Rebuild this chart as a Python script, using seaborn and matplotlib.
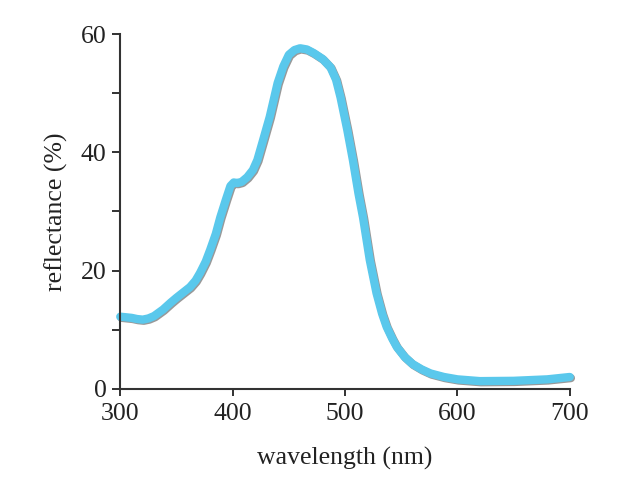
import matplotlib
matplotlib.use("Agg")
import matplotlib.pyplot as plt
import matplotlib.patheffects as pe
import seaborn as sns
import pandas as pd
from matplotlib.ticker import MultipleLocator

wavelength = [300, 305, 310, 315, 320, 325, 330, 338, 345, 350, 356, 362, 367, 371,
              376, 380, 385, 389, 394, 398, 401, 404, 408, 413, 418, 422, 427, 433,
              440, 445, 450, 455, 460, 466, 472, 480, 487, 492, 496, 502, 507, 512,
              516, 522, 528, 533, 537, 542, 546, 553, 560, 568, 576, 588, 600, 620,
              650, 680, 700]
reflectance = [12.2, 12.1, 12.0, 11.8, 11.7, 11.9, 12.3, 13.4, 14.6, 15.4, 16.3, 17.2,
               18.3, 19.6, 21.5, 23.5, 26.2, 29.0, 32.0, 34.3, 34.9, 34.8, 35.0, 35.8,
               37.0, 38.7, 42.0, 46.0, 51.7, 54.5, 56.5, 57.3, 57.6, 57.4, 56.8, 55.8,
               54.4, 52.3, 49.3, 43.8, 38.7, 33.0, 29.0, 21.8, 16.2, 12.7, 10.5, 8.5,
               7.1, 5.4, 4.2, 3.3, 2.6, 2.0, 1.6, 1.3, 1.35, 1.6, 2.0]

df = pd.DataFrame({"wavelength": wavelength, "reflectance": reflectance})

sns.set_theme(style="ticks")
plt.rcParams["font.family"] = ["Liberation Serif", "DejaVu Serif"]

fig = plt.figure(figsize=(6.2, 4.8), dpi=100)
ax = fig.add_axes([0.194, 0.19, 0.725, 0.739])

sns.lineplot(data=df, x="wavelength", y="reflectance", ax=ax, color="#5AC8EC",
             linewidth=6, clip_on=False,
             path_effects=[pe.SimpleLineShadow(offset=(0.8, -0.8), shadow_color="#555555", alpha=0.6),
                           pe.Normal()])
ax.lines[0].set_solid_joinstyle("round")
ax.lines[0].set_solid_capstyle("round")

ax.set_xlim(300, 700)
ax.set_ylim(0, 60)
ax.xaxis.set_major_locator(MultipleLocator(100))
ax.yaxis.set_major_locator(MultipleLocator(20))
ax.yaxis.set_minor_locator(MultipleLocator(10))
ax.tick_params(axis="both", which="both", direction="out", color="#222222", width=1.3,
               labelsize=18.5, labelcolor="#222222")
ax.tick_params(axis="y", which="both", length=6, pad=4)
ax.tick_params(axis="x", which="major", length=5, pad=5)
for s in ["left", "bottom"]:
    ax.spines[s].set_linewidth(1.5)
    ax.spines[s].set_color("#333333")
sns.despine(ax=ax)
ax.set_xlabel("wavelength (nm)", fontsize=18.5, color="#222222", labelpad=16)
ax.set_ylabel("reflectance (%)", fontsize=18.5, color="#222222", labelpad=9)

fig.savefig("out.png", dpi=100, facecolor="white")
